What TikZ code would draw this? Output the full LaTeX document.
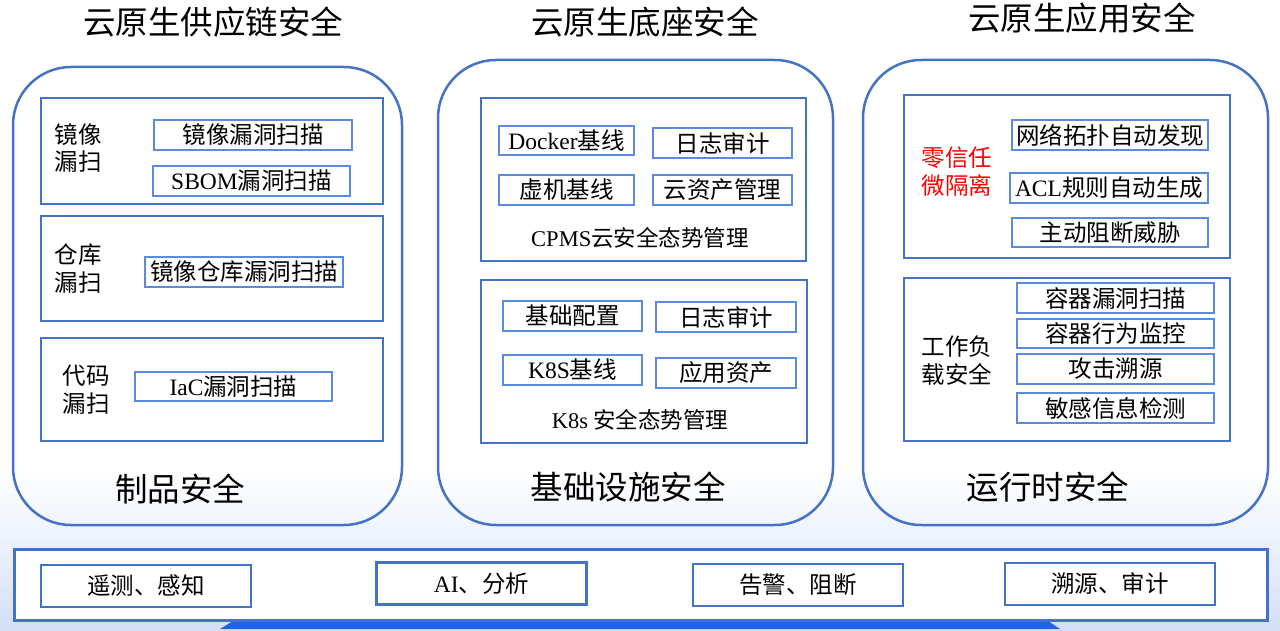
\documentclass[tikz,border=0pt]{standalone}
\usepackage{fontspec}
\setmainfont{Noto Sans CJK SC}
\newfontfamily\latn{Liberation Serif}
\definecolor{frame}{HTML}{4472C4}
\definecolor{itemline}{HTML}{5B8BE0}
\definecolor{barblue}{HTML}{1F63EB}
\definecolor{fadeblue}{HTML}{D3DFF7}

\begin{document}
\begin{tikzpicture}[x=1pt, y=-1pt,
  panel/.style={draw=frame, line width=2.5pt, rounded corners=58pt, inner sep=0pt},
  group/.style={draw=frame, line width=2.5pt, inner sep=0pt},
  item/.style={draw=itemline, line width=1.5pt, inner sep=0pt, font=\fontsize{23.5}{27}\selectfont},
  tool/.style={draw=frame, fill=white, line width=2.5pt, inner sep=0pt, minimum width=210, minimum height=42, font=\fontsize{23.5}{27}\selectfont},
  lbl/.style={align=center, font=\fontsize{23.5}{28}\selectfont},
  head/.style={font=\fontsize{32.5}{36}\selectfont}]
\useasboundingbox (0,0) rectangle (1280,631);

% background fade and bar
\fill[top color=white, bottom color=fadeblue] (0,470) rectangle (1280,631);
\fill[barblue] (233,621) -- (1048,621) -- (1060,629) -- (220,629) -- cycle;

% titles
\node[head] (t1) at (213,22) {云原生供应链安全};
\node[head] (t2) at (645,22) {云原生底座安全};
\node[head] (t3) at (1082,18) {云原生应用安全};

% panels
\node[panel, minimum width=389, minimum height=458] (supply) at (207.5,296) {};
\node[panel, minimum width=395, minimum height=465] (base) at (635.5,292.5) {};
\node[panel, minimum width=405, minimum height=465] (run) at (1065.5,292.5) {};

\node[head] (f1) at (180,489) {制品安全};
\node[head] (f2) at (628,487) {基础设施安全};
\node[head] (f3) at (1048,487) {运行时安全};

% supply chain
\node[group, minimum width=342, minimum height=106] (g1) at (212,151) {};
\node[group, minimum width=342, minimum height=105] (g2) at (212,268.5) {};
\node[group, minimum width=342, minimum height=103] (g3) at (212,389.5) {};
\node[lbl] (l1) at (78,148) {镜像\\漏扫};
\node[lbl] (l2) at (78,269) {仓库\\漏扫};
\node[lbl] (l3) at (86,390) {代码\\漏扫};
\node[item, minimum width=198, minimum height=30] (i1) at (253,135) {镜像漏洞扫描};
\node[item, minimum width=197, minimum height=30] (i2) at (251.5,181) {{\latn SBOM}漏洞扫描};
\node[item, minimum width=198, minimum height=30] (i3) at (244,272) {镜像仓库漏洞扫描};
\node[item, minimum width=197, minimum height=29] (i4) at (233.5,386.5) {{\latn IaC}漏洞扫描};

% base
\node[group, minimum width=325, minimum height=163] (cpms) at (643.5,179.5) {};
\node[group, minimum width=326, minimum height=163] (k8s) at (644,361.5) {};
\node[item, minimum width=135, minimum height=29] (c1) at (566.5,140.5) {{\latn Docker}基线};
\node[item, minimum width=139, minimum height=30] (c2) at (722.5,143) {日志审计};
\node[item, minimum width=135, minimum height=30] (c3) at (566.5,190) {虚机基线};
\node[item, minimum width=139, minimum height=30] (c4) at (722.5,190) {云资产管理};
\node[lbl, font=\fontsize{22.5}{26}\selectfont] (cl) at (640,238) {{\latn CPMS}云安全态势管理};
\node[item, minimum width=139, minimum height=30] (k1) at (572.5,316) {基础配置};
\node[item, minimum width=140, minimum height=30] (k2) at (726,317) {日志审计};
\node[item, minimum width=139, minimum height=30] (k3) at (572.5,370) {{\latn K8S}基线};
\node[item, minimum width=140, minimum height=30] (k4) at (726,373) {应用资产};
\node[lbl, font=\fontsize{22.5}{26}\selectfont] (kl) at (640,420) {{\latn K8s}\ 安全态势管理};

% runtime
\node[group, minimum width=326, minimum height=163] (zt) at (1067,176.5) {};
\node[group, minimum width=326, minimum height=163] (wl) at (1067,359.5) {};
\node[lbl, text=red] (zl) at (957,172) {零信任\\微隔离};
\node[lbl] (wll) at (957,361) {工作负\\载安全};
\node[item, minimum width=196, minimum height=30] (z1) at (1110,135) {网络拓扑自动发现};
\node[item, minimum width=198, minimum height=30] (z2) at (1109,188) {{\latn ACL}规则自动生成};
\node[item, minimum width=196, minimum height=29] (z3) at (1110,232.5) {主动阻断威胁};
\node[item, minimum width=197, minimum height=30] (w1) at (1115.5,298) {容器漏洞扫描};
\node[item, minimum width=197, minimum height=29] (w2) at (1115.5,333.5) {容器行为监控};
\node[item, minimum width=197, minimum height=30] (w3) at (1115.5,369) {攻击溯源};
\node[item, minimum width=197, minimum height=30] (w4) at (1115.5,408) {敏感信息检测};

% bottom strip
\node[draw=frame, fill=white, line width=3pt, inner sep=0pt, minimum width=1253, minimum height=71] (strip) at (640.5,584.5) {};
\node[tool] (s1) at (146,586) {遥测、感知};
\node[tool] (s2) at (481.5,583.5) {{\latn AI}、分析};
\node[tool] (s3) at (798,585) {告警、阻断};
\node[tool] (s4) at (1110,584) {溯源、审计};
\end{tikzpicture}
\end{document}
